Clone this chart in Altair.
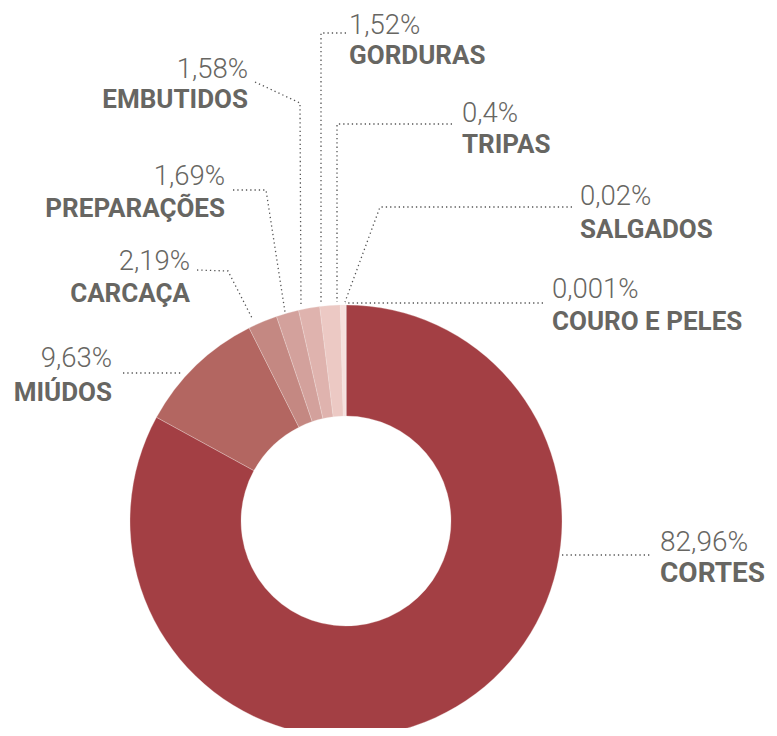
import altair as alt
import pandas as pd

# ---- data ----
categories = ["CORTES", "MIÚDOS", "CARCAÇA", "PREPARAÇÕES", "EMBUTIDOS",
              "GORDURAS", "TRIPAS", "SALGADOS", "COURO E PELES"]
values = [82.96, 9.63, 2.19, 1.69, 1.58, 1.52, 0.4, 0.02, 0.001]
pct_labels = ["82,96%", "9,63%", "2,19%", "1,69%", "1,58%",
              "1,52%", "0,4%", "0,02%", "0,001%"]
colors = ["#a33f44", "#b36661", "#c48882", "#d3a19c", "#dfb3ae",
          "#ecc9c4", "#f7e0dd", "#f9e6e3", "#fbeceb"]

# ---- layout (page pixel coordinates, offset by the 8px page margin) ----
M = 8
CX, CY = 346 - M, 521 - M
R_OUT, R_IN = 216, 105

label_pos = {  # (x, pct baseline, name baseline, align)
    "CORTES": (660, 551, 582, "left"),
    "MIÚDOS": (112, 367, 401, "right"),
    "CARCAÇA": (190, 270, 302, "right"),
    "PREPARAÇÕES": (225, 185, 217, "right"),
    "EMBUTIDOS": (248, 78, 108, "right"),
    "GORDURAS": (349, 34, 64, "left"),
    "TRIPAS": (462, 122, 153, "left"),
    "SALGADOS": (580, 205, 238, "left"),
    "COURO E PELES": (552, 298, 330, "left"),
}
leaders = {
    "CORTES": [(562, 555), (650, 555)],
    "MIÚDOS": [(123, 373), (183, 373)],
    "CARCAÇA": [(197, 270), (228, 271), (252, 318)],
    "PREPARAÇÕES": [(233, 190), (266, 190), (285, 312)],
    "EMBUTIDOS": [(255, 82), (300, 103), (301, 307)],
    "GORDURAS": [(346, 33), (321, 33), (321, 302)],
    "TRIPAS": [(452, 124), (337, 124), (337, 302)],
    "SALGADOS": [(572, 207), (380, 207), (345, 302)],
    "COURO E PELES": [(543, 303), (345, 303)],
}

df = pd.DataFrame({"cat": categories, "value": values, "pct": pct_labels,
                   "idx": list(range(len(categories)))})

lab_rows = []
for c, p in zip(categories, pct_labels):
    x, yp, yn, al = label_pos[c]
    lab_rows.append({"cat": c, "pct": p, "x": x - M, "yp": yp - M, "yn": yn - M,
                     "align": al, "big": c == "CORTES"})
labs = pd.DataFrame(lab_rows)

lead_rows = []
for c, pts in leaders.items():
    for i, (x, y) in enumerate(pts):
        lead_rows.append({"cat": c, "o": i, "x": x - M, "y": y - M})
lead = pd.DataFrame(lead_rows)

TXT = "#676662"

donut = alt.Chart(df).mark_arc(outerRadius=R_OUT, innerRadius=R_IN,
                               stroke="#f3e3e1", strokeWidth=0.3).encode(
    theta=alt.Theta("value:Q", stack=True),
    order=alt.Order("idx:Q"),
    color=alt.Color("cat:N", scale=alt.Scale(domain=categories, range=colors),
                    legend=None),
    x=alt.value(CX),
    y=alt.value(CY),
)

lines = alt.Chart(lead).mark_line(color="#555555", strokeWidth=1.3,
                                  strokeDash=[1.3, 3]).encode(
    x=alt.X("x:Q", scale=None, axis=None),
    y=alt.Y("y:Q", scale=None, axis=None),
    detail="cat:N",
    order="o:Q",
)

def text_layer(sub, align, field, ycol, size, weight):
    return alt.Chart(sub).mark_text(
        align=align, baseline="alphabetic", font="Roboto",
        fontSize=size, fontWeight=weight, color=TXT
    ).encode(
        x=alt.X("x:Q", scale=None, axis=None),
        y=alt.Y(f"{ycol}:Q", scale=None, axis=None),
        text=f"{field}:N",
    )

layers = [donut, lines]
for al in ["left", "right"]:
    sub = labs[(labs["align"] == al) & (~labs["big"])]
    layers.append(text_layer(sub, al, "pct", "yp", 27.5, 300))
    layers.append(text_layer(sub, al, "cat", "yn", 26, "bold"))
big = labs[labs["big"]]
layers.append(text_layer(big, "left", "pct", "yp", 28, 300))
layers.append(text_layer(big, "left", "cat", "yn", 28, "bold"))

chart = alt.layer(*layers).properties(
    width=761, height=720, padding=0,
    autosize=alt.AutoSizeParams(type="none"),
).configure_view(stroke=None)

chart.save("out.html", embed_options={"renderer": "svg", "actions": False})
